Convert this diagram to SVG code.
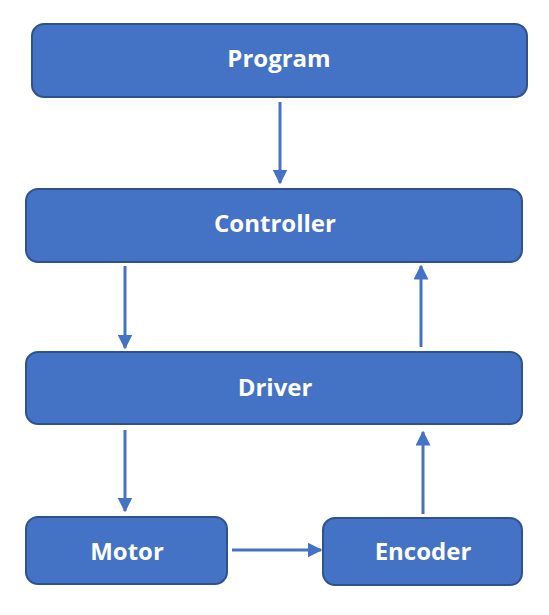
<svg xmlns="http://www.w3.org/2000/svg" width="549" height="615" viewBox="0 0 549 615">
<defs>
<style>
.box{fill:#4472C4;stroke:#2F528F;stroke-width:2}
.lbl{fill:#fff;font-family:"Open Sans","Liberation Sans",sans-serif;font-weight:bold;font-size:24px;text-anchor:middle;dominant-baseline:central}
.conn{stroke:#4472C4;stroke-width:3;fill:none;marker-end:url(#ah)}
</style>
<marker id="ah" markerWidth="5" markerHeight="5" refX="4.5" refY="2.5" orient="auto" markerUnits="strokeWidth">
<path d="M0,0 L5,2.5 L0,5 Z" fill="#4472C4"/>
</marker>
</defs>
<rect width="549" height="615" fill="#fff"/>
<g id="program"><rect class="box" x="32" y="24" width="495" height="73" rx="12"/><text class="lbl" x="279" y="57">Program</text></g>
<g id="controller"><rect class="box" x="26" y="189" width="496" height="73" rx="12"/><text class="lbl" x="275" y="222">Controller</text></g>
<g id="driver"><rect class="box" x="26" y="352" width="496" height="72" rx="12"/><text class="lbl" x="275" y="386">Driver</text></g>
<g id="motor"><rect class="box" x="26" y="517" width="201" height="67" rx="12"/><text class="lbl" x="127" y="550">Motor</text></g>
<g id="encoder"><rect class="box" x="323" y="518" width="199" height="67" rx="12"/><text class="lbl" x="423" y="550">Encoder</text></g>
<g id="connectors">
<line class="conn" x1="280" y1="102" x2="280" y2="183"/>
<line class="conn" x1="125" y1="266" x2="125" y2="348"/>
<line class="conn" x1="421" y1="347" x2="421" y2="266"/>
<line class="conn" x1="125" y1="430" x2="125" y2="511"/>
<line class="conn" x1="423" y1="514" x2="423" y2="432"/>
<line class="conn" x1="232" y1="550" x2="321" y2="550"/>
</g>
</svg>
